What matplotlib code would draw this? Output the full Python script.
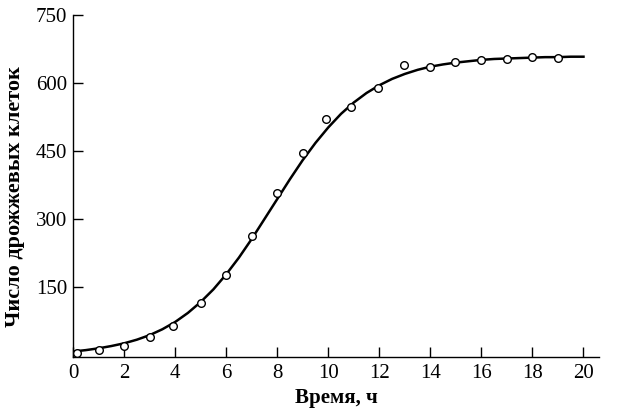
import matplotlib.pyplot as plt

# measured points (time in hours, number of yeast cells)
time_h = [0.15, 1, 2, 3, 3.9, 5, 6, 7, 8, 9, 9.9, 10.9, 11.95, 12.95, 14, 14.95, 16, 17, 18, 19]
cells = [5, 11, 20, 41, 65, 115, 176, 263, 358, 446, 520, 546, 590, 639, 636, 646, 650, 652, 657, 655]

# fitted curve every half hour
curve_t = [0, 0.5, 1, 1.5, 2, 2.5, 3, 3.5, 4, 4.5, 5, 5.5, 6, 6.5, 7, 7.5, 8, 8.5, 9, 9.5,
           10, 10.5, 11, 11.5, 12, 12.5, 13, 13.5, 14, 14.5, 15, 15.5, 16, 16.5, 17, 17.5,
           18, 18.5, 19, 19.5, 20]
curve_y = [8, 11, 15, 20, 26, 34, 44, 57, 73, 93, 117, 145, 178, 215, 256, 300, 344, 388, 430, 468,
           502, 532, 557, 578, 595, 609, 620, 629, 636, 641, 645, 648, 651, 653, 654, 655,
           656, 657, 657, 658, 658]

xticks = [0, 2, 4, 6, 8, 10, 12, 14, 16, 18, 20]
yticks = [150, 300, 450, 600, 750]

plt.rcParams["font.family"] = ["Liberation Serif", "DejaVu Serif"]

fig = plt.figure(figsize=(6.35, 4.16), dpi=100)
ax = fig.add_axes([0.115, 0.142, 0.828, 0.822])

ax.plot(curve_t, curve_y, color="black", lw=1.8, zorder=2)
ax.plot(time_h, cells, "o", ms=5.5, mfc="white", mec="black", mew=1.0, zorder=3)

ax.set_xlim(0, 20.6)
ax.set_ylim(-4, 750)
ax.set_xticks(xticks)
ax.set_yticks(yticks)
ax.tick_params(direction="in", length=7, width=1, labelsize=15, colors="black")
ax.tick_params(axis="x", pad=5)
ax.tick_params(axis="y", pad=4)

ax.spines["top"].set_visible(False)
ax.spines["right"].set_visible(False)
ax.spines["left"].set_bounds(-4, 750)
for s in ["left", "bottom"]:
    ax.spines[s].set_linewidth(1)

ax.set_xlabel("Время, ч", fontsize=15, fontweight="bold", labelpad=4)
ax.set_ylabel("Число дрожжевых клеток", fontsize=16, fontweight="bold")
ax.yaxis.set_label_coords(-0.092, 0.47)

plt.savefig("out.png", dpi=100)
